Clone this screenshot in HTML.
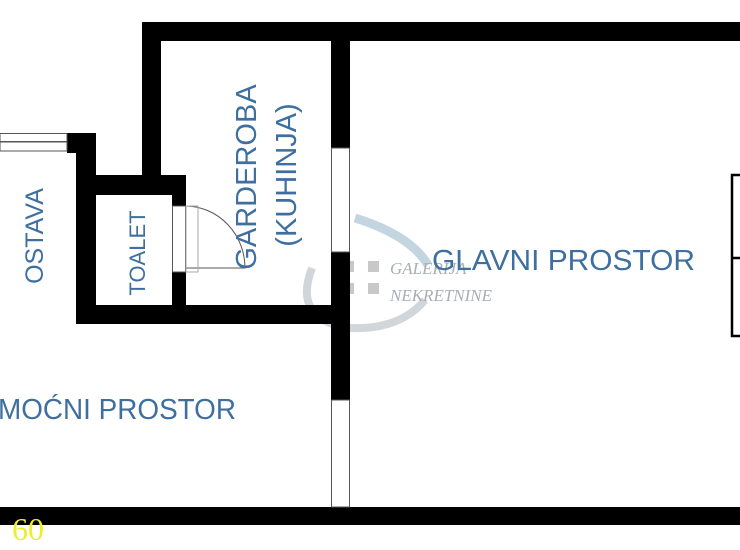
<!DOCTYPE html>
<html><head><meta charset="utf-8"><style>
html,body{margin:0;padding:0;background:#fff;width:740px;height:550px;overflow:hidden}
svg{display:block}
text{font-family:"Liberation Sans",sans-serif;fill:#3f6f9f}
</style></head><body>
<svg width="740" height="550" viewBox="0 0 740 550">
<rect width="740" height="550" fill="#fff"/>
<!-- watermark -->
<path d="M355 218 Q410 235 428 265" stroke="#c3d5e0" stroke-width="9" fill="none"/>
<path d="M312 268 Q292 320 350 328 Q400 330 425 300" stroke="#d0d6da" stroke-width="8" fill="none"/>
<g fill="#c8c8c8"><rect x="343" y="261" width="11" height="11"/><rect x="368" y="261" width="11" height="11"/><rect x="343" y="283" width="11" height="11"/><rect x="368" y="283" width="11" height="11"/></g>
<text x="390" y="274" style="font-family:'Liberation Serif',serif;font-style:italic;fill:#a8aeb4" font-size="17">GALERIJA</text>
<text x="390" y="301" style="font-family:'Liberation Serif',serif;font-style:italic;fill:#a8aeb4" font-size="17">NEKRETNINE</text>
<g fill="#000">
<rect x="142" y="22" width="598" height="19"/>
<rect x="142" y="22" width="19" height="173"/>
<rect x="331" y="41" width="19" height="107"/>
<rect x="331" y="252" width="19" height="148"/>
<rect x="0" y="507" width="740" height="18"/>
<rect x="67" y="133" width="29" height="20"/>
<rect x="76" y="133" width="20" height="191"/>
<rect x="76" y="175" width="110" height="20"/>
<rect x="172" y="180" width="14" height="26"/>
<rect x="172" y="272" width="14" height="52"/>
<rect x="76" y="305" width="274" height="19"/>
</g>
<g fill="#fff" stroke="#555" stroke-width="1">
<rect x="331.5" y="148" width="18" height="104"/>
<rect x="331.5" y="400" width="18" height="107"/>
<rect x="172.5" y="206" width="13" height="66"/>
<rect x="0" y="133.5" width="67" height="8"/>
<rect x="0" y="142" width="67" height="9"/>
</g>
<path d="M186 206 A60 62 0 0 1 245 268 L186 268" fill="none" stroke="#555" stroke-width="1"/>
<rect x="186" y="206" width="12" height="66" fill="none" stroke="#aaa" stroke-width="1"/>
<rect x="732" y="175" width="12" height="161" fill="none" stroke="#000" stroke-width="2.5"/>
<line x1="732" y1="258" x2="740" y2="258" stroke="#000" stroke-width="2.5"/>
<text x="432" y="270" font-size="29" textLength="263" lengthAdjust="spacingAndGlyphs">GLAVNI PROSTOR</text>
<text x="-2" y="419" font-size="29" textLength="238" lengthAdjust="spacingAndGlyphs">MOĆNI PROSTOR</text>
<text transform="translate(43,236) rotate(-90)" text-anchor="middle" font-size="25">OSTAVA</text>
<text transform="translate(145,253) rotate(-90)" text-anchor="middle" font-size="22">TOALET</text>
<text transform="translate(256,177) rotate(-90)" text-anchor="middle" font-size="29">GARDEROBA</text>
<text transform="translate(296,175) rotate(-90)" text-anchor="middle" font-size="29">(KUHINJA)</text>
<text x="12" y="540" style="font-family:'Liberation Serif',serif;fill:#eeee30" font-size="32">60</text>
</svg>
</body></html>
